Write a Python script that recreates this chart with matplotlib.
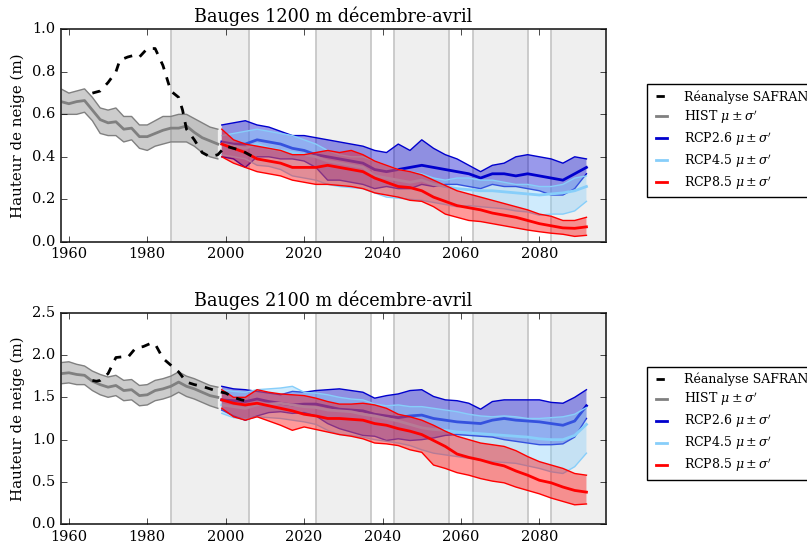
import numpy as np
import matplotlib
matplotlib.use("Agg")
import matplotlib.pyplot as plt

# ---------------- data ----------------
hist_years = [1958, 1960, 1962, 1964, 1966, 1968, 1970, 1972, 1974, 1976, 1978,
              1980, 1982, 1984, 1986, 1988, 1990, 1992, 1994, 1996, 1998]
rcp_years = list(range(1999, 2093, 3))

# Panel 1 : 1200 m
p1_hist_mean = [0.66, 0.65, 0.66, 0.665, 0.62, 0.575, 0.56, 0.565, 0.53, 0.535, 0.495,
                0.495, 0.51, 0.525, 0.535, 0.535, 0.545, 0.515, 0.49, 0.475, 0.46]
p1_hist_hi = [0.72, 0.70, 0.71, 0.72, 0.68, 0.63, 0.62, 0.63, 0.59, 0.59, 0.55,
              0.55, 0.57, 0.59, 0.59, 0.60, 0.60, 0.58, 0.56, 0.54, 0.53]
p1_hist_lo = [0.60, 0.60, 0.60, 0.61, 0.57, 0.51, 0.50, 0.50, 0.47, 0.48, 0.44,
              0.43, 0.45, 0.46, 0.47, 0.47, 0.47, 0.45, 0.42, 0.40, 0.39]

p1_rea_years = [1966, 1968, 1970, 1972, 1973, 1975, 1977, 1978, 1980, 1982, 1984, 1986,
                1988, 1989, 1990, 1992, 1994, 1996, 1998, 2000, 2002, 2004, 2006, 2007]
p1_rea = [0.70, 0.71, 0.75, 0.80, 0.855, 0.87, 0.88, 0.87, 0.91, 0.91, 0.83, 0.71,
          0.68, 0.62, 0.53, 0.48, 0.42, 0.40, 0.41, 0.45, 0.44, 0.43, 0.41, 0.40]

p1_rcp26_hi = [0.55, 0.56, 0.57, 0.55, 0.54, 0.52, 0.50, 0.50, 0.49, 0.48, 0.47, 0.46,
               0.45, 0.43, 0.42, 0.46, 0.43, 0.48, 0.44, 0.41, 0.39, 0.36, 0.33, 0.36,
               0.37, 0.40, 0.41, 0.40, 0.39, 0.37, 0.40, 0.39]
p1_rcp26_mean = [0.47, 0.46, 0.46, 0.48, 0.47, 0.46, 0.44, 0.43, 0.41, 0.40, 0.39, 0.38,
                 0.37, 0.34, 0.33, 0.34, 0.35, 0.36, 0.35, 0.34, 0.33, 0.32, 0.30, 0.32,
                 0.32, 0.31, 0.32, 0.31, 0.30, 0.29, 0.32, 0.35]
p1_rcp26_lo = [0.40, 0.39, 0.35, 0.40, 0.40, 0.39, 0.39, 0.38, 0.35, 0.29, 0.29, 0.28,
               0.27, 0.25, 0.26, 0.25, 0.25, 0.27, 0.26, 0.27, 0.27, 0.26, 0.25, 0.27,
               0.26, 0.26, 0.25, 0.24, 0.22, 0.22, 0.25, 0.32]

p1_rcp45_hi = [0.50, 0.51, 0.52, 0.53, 0.52, 0.51, 0.50, 0.48, 0.46, 0.43, 0.41, 0.40,
               0.40, 0.38, 0.36, 0.34, 0.33, 0.32, 0.30, 0.29, 0.30, 0.30, 0.29, 0.29,
               0.28, 0.27, 0.27, 0.26, 0.26, 0.27, 0.30, 0.31]
p1_rcp45_mean = [0.46, 0.45, 0.44, 0.46, 0.44, 0.43, 0.42, 0.41, 0.40, 0.38, 0.37, 0.36,
                 0.35, 0.31, 0.30, 0.29, 0.28, 0.29, 0.27, 0.26, 0.25, 0.245, 0.24, 0.24,
                 0.235, 0.23, 0.225, 0.22, 0.225, 0.23, 0.24, 0.26]
p1_rcp45_lo = [0.41, 0.40, 0.39, 0.36, 0.355, 0.34, 0.31, 0.30, 0.29, 0.27, 0.26, 0.255,
               0.25, 0.23, 0.21, 0.205, 0.20, 0.195, 0.185, 0.175, 0.165, 0.17, 0.165, 0.16,
               0.155, 0.145, 0.14, 0.125, 0.13, 0.13, 0.145, 0.19]

p1_rcp85_hi = [0.53, 0.48, 0.46, 0.45, 0.44, 0.43, 0.41, 0.41, 0.42, 0.43, 0.42, 0.43,
               0.41, 0.38, 0.36, 0.34, 0.33, 0.315, 0.29, 0.265, 0.24, 0.225, 0.21, 0.195,
               0.18, 0.165, 0.15, 0.13, 0.12, 0.10, 0.10, 0.115]
p1_rcp85_mean = [0.46, 0.44, 0.42, 0.39, 0.38, 0.37, 0.35, 0.35, 0.35, 0.36, 0.35, 0.34,
                 0.33, 0.30, 0.28, 0.26, 0.255, 0.24, 0.21, 0.19, 0.17, 0.16, 0.15, 0.135,
                 0.125, 0.115, 0.10, 0.085, 0.075, 0.065, 0.063, 0.07]
p1_rcp85_lo = [0.40, 0.37, 0.35, 0.33, 0.32, 0.31, 0.29, 0.28, 0.27, 0.27, 0.265, 0.26,
               0.25, 0.23, 0.22, 0.21, 0.195, 0.19, 0.165, 0.13, 0.115, 0.10, 0.095, 0.085,
               0.075, 0.065, 0.055, 0.047, 0.04, 0.035, 0.025, 0.03]

# Panel 2 : 2100 m
p2_hist_mean = [1.78, 1.79, 1.77, 1.76, 1.69, 1.65, 1.62, 1.64, 1.58, 1.59, 1.52,
                1.53, 1.58, 1.60, 1.63, 1.68, 1.63, 1.60, 1.56, 1.52, 1.50]
p2_hist_hi = [1.91, 1.92, 1.89, 1.87, 1.81, 1.77, 1.74, 1.76, 1.70, 1.71, 1.64,
              1.65, 1.70, 1.72, 1.75, 1.80, 1.75, 1.72, 1.68, 1.64, 1.62]
p2_hist_lo = [1.66, 1.67, 1.65, 1.65, 1.58, 1.53, 1.50, 1.52, 1.46, 1.47, 1.40,
              1.41, 1.46, 1.48, 1.51, 1.56, 1.51, 1.48, 1.44, 1.40, 1.37]

p2_rea_years = [1966, 1967, 1968, 1970, 1972, 1974, 1975, 1977, 1979, 1981, 1982, 1984,
                1986, 1988, 1990, 1992, 1994, 1996, 1998, 2000, 2002, 2004, 2005, 2006]
p2_rea = [1.70, 1.69, 1.70, 1.78, 1.97, 1.98, 1.97, 2.08, 2.10, 2.14, 2.13, 1.96,
          1.88, 1.80, 1.68, 1.65, 1.63, 1.60, 1.57, 1.55, 1.50, 1.47, 1.46, 1.49]

p2_rcp26_hi = [1.63, 1.60, 1.59, 1.57, 1.55, 1.53, 1.57, 1.56, 1.58, 1.59, 1.60, 1.58,
               1.56, 1.49, 1.52, 1.54, 1.58, 1.59, 1.51, 1.47, 1.46, 1.43, 1.36, 1.45,
               1.47, 1.47, 1.47, 1.47, 1.44, 1.43, 1.50, 1.59]
p2_rcp26_mean = [1.47, 1.46, 1.45, 1.48, 1.45, 1.43, 1.41, 1.42, 1.42, 1.39, 1.36, 1.35,
                 1.34, 1.30, 1.28, 1.26, 1.28, 1.29, 1.25, 1.23, 1.21, 1.20, 1.19, 1.23,
                 1.25, 1.23, 1.22, 1.21, 1.19, 1.17, 1.22, 1.40]
p2_rcp26_lo = [1.35, 1.28, 1.23, 1.28, 1.32, 1.33, 1.31, 1.32, 1.28, 1.19, 1.13, 1.09,
               1.05, 1.04, 0.99, 1.01, 0.99, 1.00, 1.02, 1.05, 1.06, 1.05, 1.04, 1.03,
               1.00, 0.98, 0.96, 0.94, 0.94, 0.95, 1.03, 1.25]

p2_rcp45_hi = [1.59, 1.57, 1.56, 1.59, 1.60, 1.61, 1.63, 1.56, 1.55, 1.53, 1.50, 1.48,
               1.47, 1.42, 1.40, 1.41, 1.39, 1.39, 1.37, 1.35, 1.33, 1.30, 1.28, 1.27,
               1.28, 1.27, 1.25, 1.25, 1.26, 1.27, 1.30, 1.38]
p2_rcp45_mean = [1.41, 1.39, 1.37, 1.41, 1.42, 1.43, 1.41, 1.39, 1.38, 1.35, 1.34, 1.33,
                 1.30, 1.28, 1.25, 1.22, 1.18, 1.14, 1.12, 1.11, 1.09, 1.08, 1.07, 1.06,
                 1.05, 1.04, 1.03, 1.01, 1.00, 1.00, 1.05, 1.18]
p2_rcp45_lo = [1.31, 1.26, 1.24, 1.27, 1.26, 1.25, 1.23, 1.21, 1.18, 1.11, 1.06, 1.05,
               1.03, 1.00, 0.98, 0.96, 0.93, 0.88, 0.84, 0.82, 0.80, 0.78, 0.76, 0.74,
               0.73, 0.72, 0.69, 0.66, 0.62, 0.60, 0.68, 0.84]

p2_rcp85_hi = [1.59, 1.50, 1.50, 1.59, 1.56, 1.54, 1.53, 1.52, 1.49, 1.45, 1.42, 1.42,
               1.43, 1.41, 1.37, 1.30, 1.27, 1.23, 1.17, 1.10, 1.04, 1.00, 0.96, 0.94,
               0.92, 0.87, 0.80, 0.74, 0.70, 0.66, 0.60, 0.58]
p2_rcp85_mean = [1.47, 1.43, 1.41, 1.43, 1.40, 1.37, 1.34, 1.30, 1.28, 1.25, 1.25, 1.24,
                 1.23, 1.19, 1.17, 1.13, 1.10, 1.06, 0.99, 0.92, 0.83, 0.79, 0.76, 0.72,
                 0.69, 0.63, 0.58, 0.52, 0.49, 0.44, 0.40, 0.38]
p2_rcp85_lo = [1.37, 1.27, 1.23, 1.27, 1.22, 1.17, 1.11, 1.15, 1.12, 1.09, 1.06, 1.04,
               1.01, 0.96, 0.95, 0.93, 0.88, 0.85, 0.70, 0.66, 0.61, 0.58, 0.54, 0.51,
               0.49, 0.44, 0.40, 0.36, 0.31, 0.27, 0.23, 0.24]

titles = ["Bauges 1200 m décembre-avril", "Bauges 2100 m décembre-avril"]
ylims = [(0.0, 1.0), (0.0, 2.5)]
yticks = [[0.0, 0.2, 0.4, 0.6, 0.8, 1.0], [0.0, 0.5, 1.0, 1.5, 2.0, 2.5]]
xticks = [1960, 1980, 2000, 2020, 2040, 2060, 2080]
periods = [(1986, 2006), (2023, 2037), (2043, 2057), (2063, 2077), (2083, 2100)]
labels = ["Réanalyse SAFRAN", r"HIST $\mu \pm \sigma'$", r"RCP2.6 $\mu \pm \sigma'$",
          r"RCP4.5 $\mu \pm \sigma'$", r"RCP8.5 $\mu \pm \sigma'$"]

panels = [
    dict(hist=(p1_hist_mean, p1_hist_lo, p1_hist_hi), rea=(p1_rea_years, p1_rea),
         rcp=[(p1_rcp26_mean, p1_rcp26_lo, p1_rcp26_hi),
              (p1_rcp45_mean, p1_rcp45_lo, p1_rcp45_hi),
              (p1_rcp85_mean, p1_rcp85_lo, p1_rcp85_hi)]),
    dict(hist=(p2_hist_mean, p2_hist_lo, p2_hist_hi), rea=(p2_rea_years, p2_rea),
         rcp=[(p2_rcp26_mean, p2_rcp26_lo, p2_rcp26_hi),
              (p2_rcp45_mean, p2_rcp45_lo, p2_rcp45_hi),
              (p2_rcp85_mean, p2_rcp85_lo, p2_rcp85_hi)]),
]

# ---------------- style ----------------
plt.style.use("classic")
plt.rcParams["font.family"] = ["DejaVu Serif"]
plt.rcParams["mathtext.fontset"] = "dejavuserif"

rcp_colors = ["mediumblue", "lightskyblue", "red"]

fig = plt.figure(figsize=(8.07, 5.45), dpi=100, facecolor="white")
axes_rects = [[0.0756, 0.5565, 0.6754, 0.3895], [0.0756, 0.038, 0.6754, 0.3883]]
legend_anchor = [(0.8014, 0.845), (0.8014, 0.327)]

for i, (p, rect) in enumerate(zip(panels, axes_rects)):
    ax = fig.add_axes(rect)
    for a, b in periods:
        ax.axvspan(a, b, facecolor="#efefef", edgecolor="#c8c8c8", lw=1.3, zorder=0)
    # HIST
    m, lo, hi = p["hist"]
    ax.fill_between(hist_years, lo, hi, facecolor="gray", alpha=0.4, edgecolor="none", zorder=2)
    ax.plot(hist_years, lo, color="gray", lw=1, zorder=2)
    ax.plot(hist_years, hi, color="gray", lw=1, zorder=2)
    h_hist, = ax.plot(hist_years, m, color="gray", lw=2, zorder=2)
    handles = []
    for (m, lo, hi), c in zip(p["rcp"], rcp_colors):
        ax.fill_between(rcp_years, lo, hi, facecolor=c, alpha=0.4, edgecolor="none", zorder=3)
        ax.plot(rcp_years, lo, color=c, lw=1, zorder=3)
        ax.plot(rcp_years, hi, color=c, lw=1, zorder=3)
        h, = ax.plot(rcp_years, m, color=c, lw=2, zorder=3)
        handles.append(h)
    ry, rv = p["rea"]
    h_rea, = ax.plot(ry, rv, color="black", lw=2, ls="--", zorder=4)

    ax.set_xlim(1958, 2097)
    ax.set_ylim(*ylims[i])
    ax.set_xticks(xticks)
    ax.set_yticks(yticks[i])
    ax.set_title(titles[i], fontsize=12.7)
    ax.set_ylabel("Hauteur de neige (m)", fontsize=10.8)
    ax.tick_params(labelsize=10.5)
    for s in ax.spines.values():
        s.set_edgecolor("#333333")
        s.set_linewidth(1.3)

    leg = fig.legend([h_rea, h_hist] + handles, labels, loc="upper left",
                     bbox_to_anchor=legend_anchor[i], bbox_transform=fig.transFigure,
                     borderaxespad=0.0,
                     fontsize=9.0, handlelength=1.5, labelspacing=0.36,
                     borderpad=0.45, handletextpad=1.05, fancybox=False)
    leg.get_frame().set_edgecolor("black")
    leg.get_frame().set_linewidth(1.0)

fig.savefig("out.png", dpi=100, facecolor="white")
